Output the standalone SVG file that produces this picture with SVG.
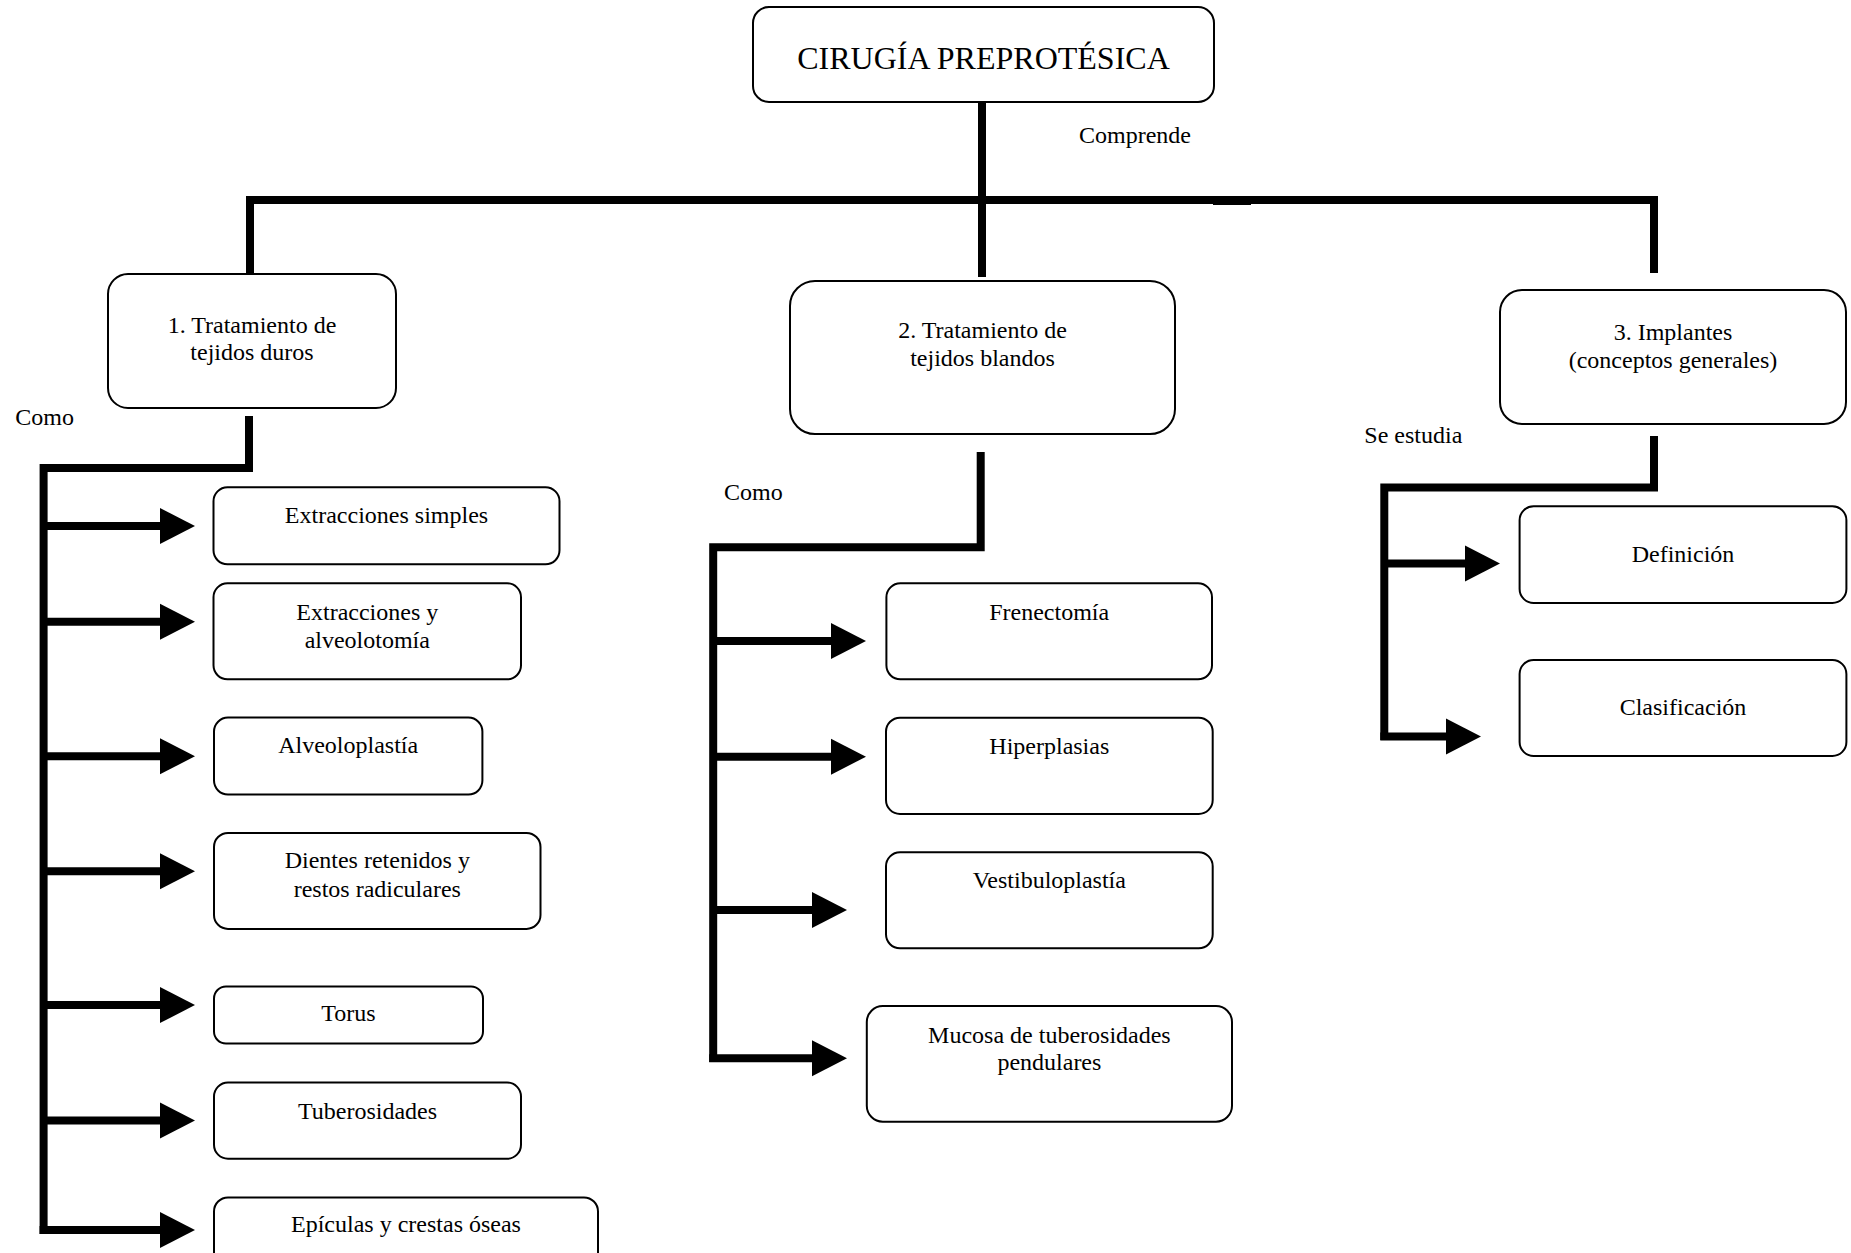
<svg xmlns="http://www.w3.org/2000/svg" width="1851" height="1253" viewBox="0 0 1851 1253">
<style>
.box{fill:#fff;stroke:#000;stroke-width:2}
.t{font-family:"Liberation Serif","Times New Roman",serif;font-size:24px;fill:#000}
.c{text-anchor:middle}
.title{font-size:32px}
.ln{fill:none;stroke:#000;stroke-width:8;stroke-linecap:butt;stroke-linejoin:miter}
.ar{fill:none;stroke:#000;stroke-width:8;marker-end:url(#ah)}
</style>
<defs>
<marker id="ah" markerUnits="userSpaceOnUse" markerWidth="36" markerHeight="36" refX="0" refY="18" orient="auto" overflow="visible">
<path d="M0,0 L35,18 L0,36 Z" fill="#000"/>
</marker>
</defs>
<rect width="1851" height="1253" fill="#fff"/>
<g id="connectors">
<path class="ln" d="M982,102 V277"/>
<path class="ln" d="M250,274 V200 H1654 V273"/>
<rect x="1213" y="196" width="38" height="9" fill="#000"/>
<path class="ln" d="M249,416 V468 H43.6 V1234"/>
<line class="ar" x1="43.6" y1="526" x2="160" y2="526"/>
<line class="ar" x1="43.6" y1="621.7" x2="160" y2="621.7"/>
<line class="ar" x1="43.6" y1="756.3" x2="160" y2="756.3"/>
<line class="ar" x1="43.6" y1="871.2" x2="160" y2="871.2"/>
<line class="ar" x1="43.6" y1="1005.1" x2="160" y2="1005.1"/>
<line class="ar" x1="43.6" y1="1120.4" x2="160" y2="1120.4"/>
<line class="ar" x1="39.6" y1="1230.1" x2="160" y2="1230.1"/>
<path class="ln" d="M980.7,452 V547.3 H713.2 V1062"/>
<line class="ar" x1="713.2" y1="641" x2="831" y2="641"/>
<line class="ar" x1="713.2" y1="756.7" x2="831" y2="756.7"/>
<line class="ar" x1="713.2" y1="910" x2="812" y2="910"/>
<line class="ar" x1="709.2" y1="1058.3" x2="812" y2="1058.3"/>
<path class="ln" d="M1654,436 V487.5 H1384.3 V740"/>
<line class="ar" x1="1384.3" y1="563.5" x2="1465" y2="563.5"/>
<line class="ar" x1="1380.3" y1="736.4" x2="1446" y2="736.4"/>
</g>
<g id="labels">
<text class="t" x="1079" y="143.3">Comprende</text>
<text class="t" x="15.3" y="425">Como</text>
<text class="t" x="724" y="500">Como</text>
<text class="t" x="1364.3" y="443">Se estudia</text>
</g>
<g id="n-top">
<rect class="box" x="753" y="7" width="461" height="95" rx="16"/>
<text class="t c title" x="983.5" y="69">CIRUGÍA PREPROTÉSICA</text>
</g>
<g id="n-duros">
<rect class="box" x="108" y="274" width="288" height="134" rx="20"/>
<text class="t c" x="252" y="332.7">1. Tratamiento de</text>
<text class="t c" x="252" y="360">tejidos duros</text>
</g>
<g id="n-blandos">
<rect class="box" x="790" y="281" width="385" height="153" rx="25"/>
<text class="t c" x="982.5" y="338.3">2. Tratamiento de</text>
<text class="t c" x="982.5" y="366">tejidos blandos</text>
</g>
<g id="n-implantes">
<rect class="box" x="1500" y="290" width="346" height="134" rx="22"/>
<text class="t c" x="1673" y="339.8">3. Implantes</text>
<text class="t c" x="1673" y="368">(conceptos generales)</text>
</g>
<g id="n-ext-simples">
<rect class="box" x="213.5" y="487.3" width="346" height="77" rx="14"/>
<text class="t c" x="386.5" y="522.7">Extracciones simples</text>
</g>
<g id="n-ext-alveolotomia">
<rect class="box" x="213.5" y="583.3" width="307.5" height="96" rx="14"/>
<text class="t c" x="367.3" y="620">Extracciones y</text>
<text class="t c" x="367.3" y="648.2">alveolotomía</text>
</g>
<g id="n-alveoloplastia">
<rect class="box" x="214" y="717.6" width="268.4" height="77" rx="14"/>
<text class="t c" x="348.2" y="753">Alveoloplastía</text>
</g>
<g id="n-dientes">
<rect class="box" x="214" y="832.9" width="326.5" height="96" rx="14"/>
<text class="t c" x="377.3" y="868">Dientes retenidos y</text>
<text class="t c" x="377.3" y="897.4">restos radiculares</text>
</g>
<g id="n-torus">
<rect class="box" x="214" y="986.5" width="269" height="57" rx="12"/>
<text class="t c" x="348.5" y="1021.2">Torus</text>
</g>
<g id="n-tuberosidades">
<rect class="box" x="214" y="1082.5" width="307" height="76.2" rx="14"/>
<text class="t c" x="367.5" y="1118.8">Tuberosidades</text>
</g>
<g id="n-epiculas">
<rect class="box" x="214" y="1197.4" width="384" height="70" rx="14"/>
<text class="t c" x="406" y="1232.1">Epículas y crestas óseas</text>
</g>
<g id="n-frenectomia">
<rect class="box" x="886.4" y="583.3" width="325.6" height="96" rx="14"/>
<text class="t c" x="1049.2" y="620">Frenectomía</text>
</g>
<g id="n-hiperplasias">
<rect class="box" x="886" y="717.7" width="326.7" height="96.3" rx="14"/>
<text class="t c" x="1049.3" y="754">Hiperplasias</text>
</g>
<g id="n-vestibuloplastia">
<rect class="box" x="886" y="852.3" width="326.7" height="96" rx="14"/>
<text class="t c" x="1049.3" y="888.3">Vestibuloplastía</text>
</g>
<g id="n-mucosa">
<rect class="box" x="866.8" y="1006" width="365.2" height="115.7" rx="16"/>
<text class="t c" x="1049.4" y="1042.7">Mucosa de tuberosidades</text>
<text class="t c" x="1049.4" y="1070">pendulares</text>
</g>
<g id="n-definicion">
<rect class="box" x="1519.6" y="506.3" width="326.8" height="96.7" rx="14"/>
<text class="t c" x="1683" y="561.6">Definición</text>
</g>
<g id="n-clasificacion">
<rect class="box" x="1519.6" y="660" width="326.8" height="96" rx="14"/>
<text class="t c" x="1683" y="714.6">Clasificación</text>
</g>
</svg>
